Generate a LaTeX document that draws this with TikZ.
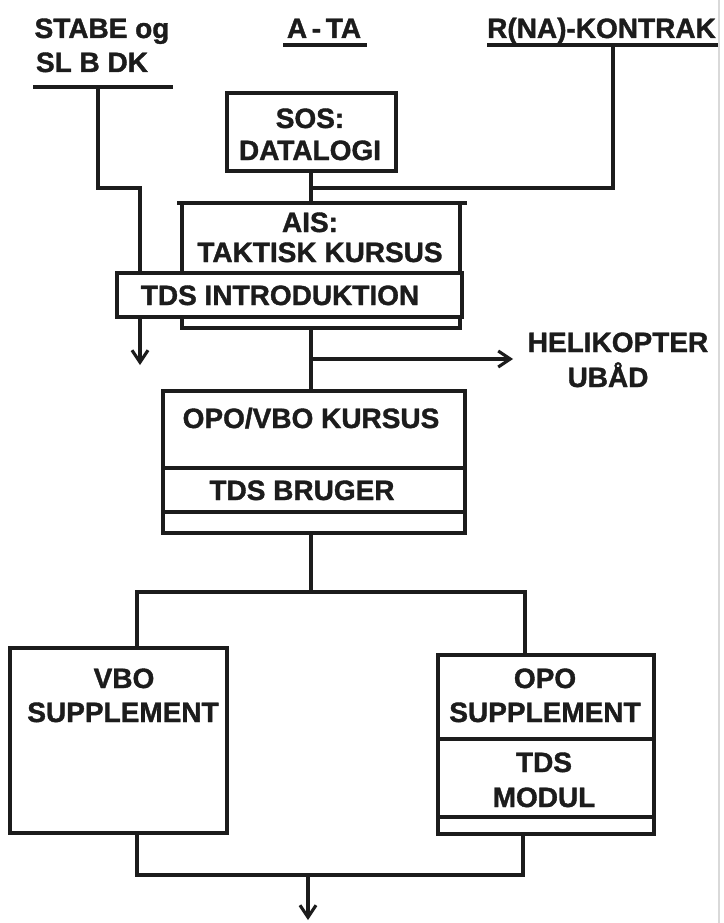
\documentclass[tikz,border=0pt]{standalone}
\usepackage{fontspec}
\setmainfont[FakeBold=1.3]{Liberation Sans}
\usetikzlibrary{arrows.meta}
\definecolor{ink}{HTML}{1C1C1C}
\begin{document}
\begin{tikzpicture}[x=1pt,y=-1pt,
  ln/.style={draw=ink, line width=3.1pt},
  box/.style={draw=ink, line width=3.1pt, fill=white, rectangle, inner sep=0pt, outer sep=0pt},
  txt/.style={text=ink, font=\fontsize{28}{32}\selectfont\bfseries, inner sep=0pt, anchor=base},
  arr/.style={-{Straight Barb[length=12pt,width=16pt]}}]
\useasboundingbox (0,0) rectangle (723,923);
\fill[white] (0,0) rectangle (723,923);
\draw[gray!30, line width=1.5pt] (719,0) -- (719,923);

% top labels
\node[txt] (stabe1) at (102,38) {STABE og};
\node[txt] (stabe2) at (92,72) {SL B DK};
\draw[ln] (33,87) -- (173,87);
\node[txt] (ata) at (324,38) {A\,-\,TA};
\draw[ln] (283,45) -- (367,45);
\begin{scope}
\clip (0,0) rectangle (717,923);
\node[txt, anchor=base west] (rna) at (487,38) {R(NA)-KONTRAK};
\end{scope}
\draw[ln] (487,45) -- (718,45);

\coordinate (sl) at (98,87);
\coordinate (leftout) at (140,365);
\coordinate (rl) at (613,45);
\coordinate (spine) at (311,188);

% SOS box
\node[box, minimum width=169pt, minimum height=78pt] (sos) at (311.5,132) {};
\node[txt] (sost1) at (310,128) {SOS:};
\node[txt] (sost2) at (310,160) {DATALOGI};

% left line (behind TDS introduktion)
\draw[ln, arr] (sl) |- (leftout |- spine) -- (leftout);
% right line
\draw[ln] (rl) |- (spine);
\draw[ln] (sos.south -| spine) -- (spine);

% AIS box
\node[box, minimum width=278pt, minimum height=125pt] (ais) at (321,265.5) {};
\draw[ln] ([xshift=-5pt]ais.north west) -- ([xshift=7pt]ais.north east);
\draw[ln] (spine) -- (spine |- ais.north);
\node[txt] (aist1) at (310,232) {AIS:};
\node[txt] (aist2) at (320,262) {TAKTISK KURSUS};
\node[box, minimum width=345pt, minimum height=44pt] (tdsi) at (289.5,295) {};
\node[txt] (tdsit) at (280,305) {TDS INTRODUKTION};

% OPO/VBO box
\node[box, minimum width=302pt, minimum height=142pt] (opo) at (314,462) {};
\draw[ln] ([yshift=-77pt]opo.north west) -- ([yshift=-77pt]opo.north east);
\draw[ln] ([yshift=-121pt]opo.north west) -- ([yshift=-121pt]opo.north east);
\node[txt] (opot1) at (311,428) {OPO/VBO KURSUS};
\node[txt] (opot2) at (302,500) {TDS BRUGER};
\draw[ln] (ais.south -| spine) -- (opo.north -| spine);

% helikopter
\coordinate (heli) at (513,359);
\draw[ln, arr] (spine |- heli) -- (heli);
\node[txt] (helit1) at (618,352) {HELIKOPTER};
\node[txt] (helit2) at (608,387) {UBÅD};

% lower boxes
\node[box, minimum width=217pt, minimum height=185pt] (vbo) at (118.5,740.5) {};
\node[txt] (vbot1) at (124,688) {VBO};
\node[txt] (vbot2) at (123,722) {SUPPLEMENT};
\node[box, minimum width=216pt, minimum height=179pt] (opos) at (546,744.5) {};
\draw[ln] ([yshift=-84pt]opos.north west) -- ([yshift=-84pt]opos.north east);
\draw[ln] ([yshift=-162pt]opos.north west) -- ([yshift=-162pt]opos.north east);
\node[txt] (opost1) at (545,688) {OPO};
\node[txt] (opost2) at (545,722) {SUPPLEMENT};
\node[txt] (opost3) at (544,772) {TDS};
\node[txt] (opost4) at (544,807) {MODUL};

\coordinate (bl) at (137,592);
\coordinate (br) at (525,592);
\draw[ln] (opo.south -| spine) -- (spine |- bl);
\draw[ln] (vbo.north -| bl) -- (bl) -- (br) -- (opos.north -| br);

\coordinate (jl) at (137,875);
\coordinate (jr) at (523,875);
\coordinate (out) at (308,920);
\draw[ln] (vbo.south -| jl) -- (jl) -- (jr) -- (opos.south -| jr);
\draw[ln, arr] (out |- jl) -- (out);
\end{tikzpicture}
\end{document}
